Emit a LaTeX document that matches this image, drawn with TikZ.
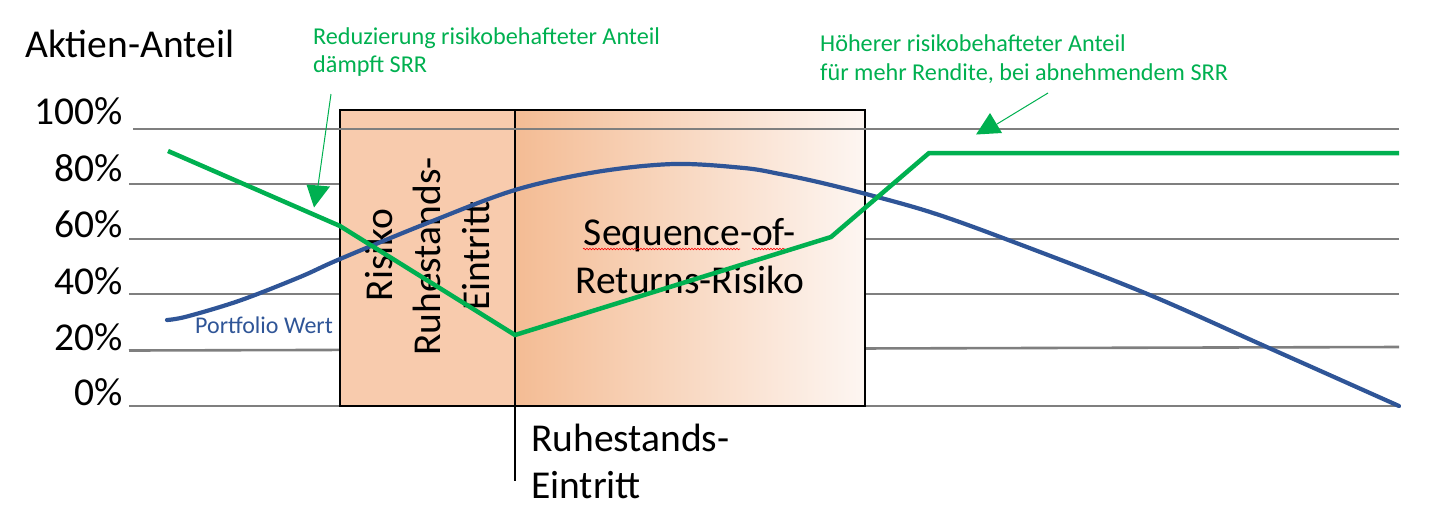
\documentclass[tikz,border=0pt]{standalone}
\usepackage{fontspec}
\setmainfont{Carlito}
\usetikzlibrary{decorations.pathmorphing}
\definecolor{gridgray}{RGB}{127,127,127}
\definecolor{srrgreen}{RGB}{0,176,80}
\definecolor{pfblue}{RGB}{47,85,151}
\definecolor{peach}{RGB}{248,203,173}
\definecolor{peachA}{RGB}{244,188,148}
\definecolor{peachB}{RGB}{253,246,242}
\begin{document}
\begin{tikzpicture}[x=1pt,y=-1pt,
  gridline/.style={draw=gridgray,line width=2.6pt},
  pct/.style={font=\fontsize{39.5}{47}\selectfont,inner sep=0pt,anchor=base east},
  bigtext/.style={font=\fontsize{39.5}{47.5}\selectfont,inner sep=0pt},
  note/.style={text=srrgreen,font=\fontsize{24.2}{28}\selectfont,inner sep=0pt,anchor=base west},
  noteline/.style={draw=srrgreen,line width=1pt},
  notehead/.style={fill=srrgreen},
  greenline/.style={draw=srrgreen,line width=4.5pt,line join=miter},
  blueline/.style={draw=pfblue,line width=4.2pt,line cap=round},
  boxborder/.style={draw=black,line width=1.3pt},
  squiggle/.style={draw=red,line width=0.6pt,decorate,decoration={snake,amplitude=0.8pt,segment length=3pt}}
  ]
\useasboundingbox (0,0) rectangle (1453,507);
% grid lines behind the box
\draw[gridline] (129,184) coordinate (g80a) -- (1399,184) coordinate (g80b);
\draw[gridline] (129,239) coordinate (g60a) -- (1399,239) coordinate (g60b);
\draw[gridline] (129,294) coordinate (g40a) -- (1399,294) coordinate (g40b);
\draw[gridline] (129,350.5) coordinate (g20a) -- (1399,347) coordinate (g20b);
\draw[gridline] (129,406) coordinate (g0a) -- (1399,406) coordinate (g0b);
% the box
\fill[peach] (340,110) rectangle (515,406);
\shade[left color=peachA,right color=peachB] (515,110) rectangle (865,406);
\draw[boxborder] (340,110) rectangle (865,406);
\draw[boxborder] (515,110) -- (515,406);
% 100% line over the box
\draw[gridline] (133,129) coordinate (g100a) -- (1399,129) coordinate (g100b);
% axis labels
\node[bigtext,anchor=base west] (title) at (25,57) {Aktien-Anteil};
\node[pct] (p100) at (123,124.5) {100\%};
\node[pct] (p80) at (123,181) {80\%};
\node[pct] (p60) at (123,237) {60\%};
\node[pct] (p40) at (123,294) {40\%};
\node[pct] (p20) at (123,350) {20\%};
\node[pct] (p0) at (123,405.5) {0\%};
% box texts
\node[bigtext,rotate=90,anchor=base] (r1) at (392,255) {Risiko};
\node[bigtext,rotate=90,anchor=base] (r2) at (440.5,256.5) {Ruhestands-};
\node[bigtext,rotate=90,anchor=base] (r3) at (489,256) {Eintritt};
\node[bigtext,anchor=base] (s1) at (690,245) {Sequence-of-};
\node[bigtext,anchor=base] (s2) at (690,293) {Returns-Risiko};
\draw[squiggle] (583,249) -- (740,249);
\draw[squiggle] (752,249) -- (785,249);
% retirement marker
\coordinate (tickTop) at (515,401);
\coordinate (tickBot) at (515,481);
\draw[draw=black,line width=1.5pt] (tickTop) -- (tickBot);
\node[bigtext,anchor=base west] (e1) at (531,451.5) {Ruhestands-};
\node[bigtext,anchor=base west] (e2) at (531,498) {Eintritt};
% portfolio label
\node[text=pfblue,font=\fontsize{24}{28}\selectfont,inner sep=0pt,anchor=base west] (pw) at (195,333.5) {Portfolio Wert};
% curves
\draw[blueline] plot[smooth,tension=0.55] coordinates {(167,320) (187,316.5) (240,300.5) (300,277) (340,259) (430,222) (515,190) (596,172) (674,164) (744,168) (780,174) (818,182) (866,194) (930,212) (1003,238) (1145,293) (1269,348) (1399,406)};
\draw[greenline] (168,151) -- (340,226) -- (515,335) -- (831,237) -- (929,153) -- (1399,153);
% annotations
\node[note] (n1a) at (313,44.5) {Reduzierung risikobehafteter Anteil};
\node[note] (n1b) at (313,72.5) {dämpft SRR};
\node[note] (n2a) at (820,51.5) {Höherer risikobehafteter Anteil};
\node[note] (n2b) at (820,80.5) {für mehr Rendite, bei abnehmendem SRR};
\coordinate (a1s) at (331,94);
\coordinate (a1e) at (318,186);
\draw[noteline] (a1s) -- (a1e);
\fill[notehead] (306.5,184.5) -- (330,186.5) -- (314,207.5) -- cycle;
\coordinate (a2s) at (1048,93);
\coordinate (a2e) at (997,124);
\draw[noteline] (a2s) -- (a2e);
\fill[notehead] (990,113) -- (976,134.5) -- (1002,133) -- cycle;
\end{tikzpicture}
\end{document}
